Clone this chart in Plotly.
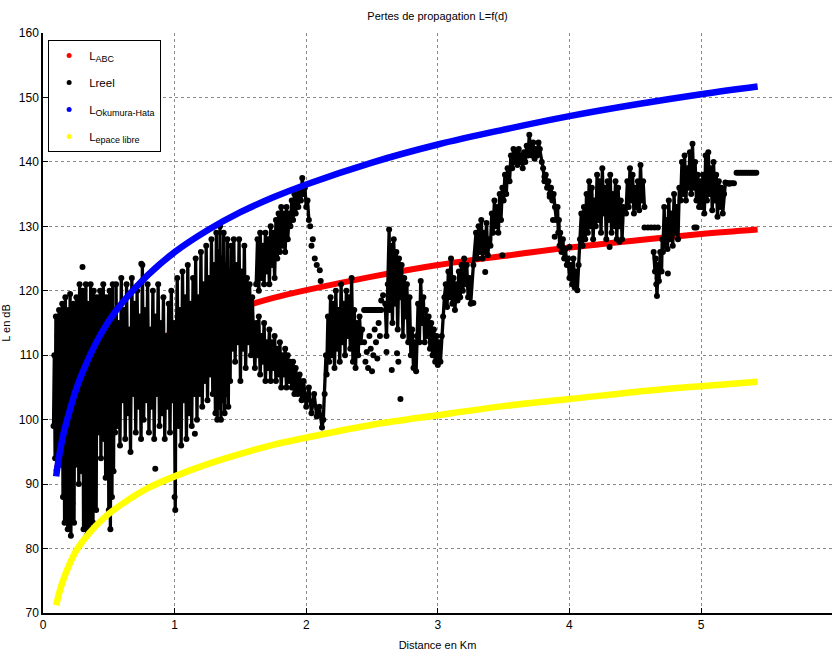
import plotly.graph_objects as go

# ---- propagation models, sampled along the route (km -> dB) ----
dist_model = [0.1, 0.12, 0.15, 0.2, 0.25, 0.3, 0.4, 0.5, 0.6, 0.8, 1.0, 1.25,
              1.5, 1.75, 2.0, 2.5, 3.0, 3.5, 4.0, 4.5, 5.0, 5.43]
loss_abc = [91.9, 93.6, 95.7, 98.4, 100.5, 102.3, 105.0, 107.1, 108.8, 111.5,
            113.6, 115.7, 117.4, 118.9, 120.1, 122.2, 124.0, 125.4, 126.7,
            127.8, 128.8, 129.5]
loss_okumura = [91.2, 94.0, 97.3, 101.2, 104.6, 107.3, 111.8, 115.3, 118.1,
                122.5, 126.0, 129.4, 132.2, 134.5, 136.5, 139.9, 142.7, 145.0,
                147.1, 148.9, 150.5, 151.7]
loss_free = [71.2, 72.9, 74.9, 77.5, 79.6, 81.1, 83.5, 85.4, 86.9, 89.4, 91.2,
             93.1, 94.7, 96.1, 97.2, 99.2, 100.7, 102.1, 103.2, 104.3, 105.2,
             105.9]

# ---- measured losses (distance km, loss dB), grouped by stretch of route ----
reel_near = [
    (0.080, 99), (0.086, 110), (0.092, 94), (0.098, 116), (0.104, 101), (0.110, 113),
    (0.116, 95), (0.122, 117), (0.128, 97), (0.134, 111), (0.140, 93), (0.146, 118),
    (0.152, 88), (0.158, 115), (0.164, 84), (0.170, 119), (0.176, 90), (0.182, 113),
    (0.188, 83), (0.194, 117), (0.200, 86), (0.206, 119.5), (0.212, 82), (0.218, 114),
    (0.224, 87), (0.230, 118), (0.236, 84), (0.242, 116), (0.248, 93), (0.254, 119),
    (0.260, 97), (0.266, 115), (0.272, 90), (0.278, 121), (0.284, 99), (0.290, 117),
    (0.296, 92), (0.302, 120), (0.308, 83), (0.314, 116), (0.320, 88), (0.326, 121),
    (0.332, 82), (0.338, 118), (0.344, 85), (0.350, 114), (0.356, 83), (0.362, 121),
    (0.368, 90), (0.374, 117), (0.380, 84), (0.386, 120), (0.392, 94), (0.398, 115),
    (0.404, 86), (0.410, 119), (0.416, 98), (0.422, 116), (0.428, 101), (0.434, 120),
    (0.440, 94), (0.446, 113), (0.452, 102), (0.458, 121), (0.464, 97), (0.470, 117),
    (0.476, 91), (0.482, 119), (0.488, 100), (0.494, 114), (0.500, 86), (0.506, 120),
    (0.512, 83), (0.518, 116), (0.524, 88), (0.530, 121), (0.536, 92), (0.542, 117),
    (0.548, 98),
]
reel_mid = [
    (0.555, 121), (0.565, 99), (0.575, 115), (0.585, 96), (0.595, 122), (0.605, 103),
    (0.615, 117), (0.625, 97), (0.635, 121), (0.645, 101), (0.655, 114), (0.665, 95),
    (0.675, 122), (0.685, 104), (0.695, 118), (0.705, 98), (0.715, 120), (0.725, 102),
    (0.735, 116), (0.745, 97), (0.755, 124), (0.765, 100), (0.775, 117), (0.785, 103),
    (0.795, 121), (0.805, 98), (0.815, 114), (0.825, 102), (0.835, 120), (0.845, 97),
    (0.855, 116), (0.865, 104), (0.875, 121), (0.885, 99), (0.895, 115), (0.905, 101),
    (0.915, 119), (0.925, 97), (0.935, 113), (0.945, 102), (0.955, 118), (0.965, 98),
    (0.975, 120), (0.985, 103), (0.995, 115), (1.000, 88), (1.005, 86), (1.010, 108),
    (1.020, 122), (1.030, 99), (1.040, 117), (1.050, 96), (1.060, 123), (1.070, 103),
    (1.080, 119), (1.090, 97), (1.100, 124), (1.110, 101), (1.120, 118), (1.130, 99),
    (1.140, 122), (1.150, 104), (1.160, 125), (1.170, 100), (1.180, 119), (1.190, 104),
    (1.200, 126), (1.210, 102), (1.220, 121), (1.230, 106), (1.240, 127), (1.250, 103),
    (1.260, 122), (1.270, 107), (1.280, 128), (1.290, 104), (1.300, 124),
    (1.310, 101), (1.317, 129), (1.324, 100), (1.331, 126), (1.338, 102), (1.345, 130),
    (1.352, 100), (1.359, 125), (1.366, 103), (1.373, 129), (1.380, 101), (1.387, 124),
    (1.394, 104), (1.401, 128), (1.408, 102), (1.415, 123), (1.422, 106), (1.429, 127),
    (1.440, 111), (1.450, 128), (1.460, 109), (1.470, 124), (1.480, 112), (1.490, 128),
    (1.500, 106), (1.510, 123), (1.520, 111), (1.530, 127), (1.540, 108), (1.550, 122),
    (1.560, 112), (1.570, 121), (1.580, 110), (1.590, 119), (1.600, 113),
    (1.610, 108), (1.620, 115), (1.630, 110), (1.640, 116), (1.650, 107), (1.660, 113),
    (1.670, 109), (1.680, 115), (1.690, 106), (1.700, 112), (1.710, 108), (1.720, 114),
    (1.730, 106), (1.740, 112), (1.750, 108), (1.760, 113), (1.770, 106), (1.780, 111),
    (1.790, 107), (1.800, 112), (1.810, 105), (1.820, 110), (1.830, 107), (1.840, 111),
    (1.850, 105), (1.860, 110), (1.870, 106), (1.880, 109), (1.890, 105), (1.900, 109),
    (1.910, 104), (1.920, 108), (1.935, 104), (1.950, 107), (1.965, 103), (1.980, 106),
    (2.000, 102), (2.020, 105), (2.040, 101), (2.060, 104), (2.080, 100.5), (2.100, 102),
    (2.120, 98.8), (2.130, 100),
    (2.140, 104), (2.150, 110), (2.155, 107), (2.165, 116), (2.175, 109), (2.185, 119),
    (2.195, 110), (2.205, 118), (2.215, 108), (2.225, 120), (2.235, 111), (2.245, 117),
    (2.255, 109), (2.265, 121), (2.275, 112), (2.285, 118), (2.295, 110), (2.305, 120),
    (2.315, 113), (2.325, 119), (2.335, 111), (2.345, 122), (2.355, 109), (2.365, 117),
    (2.375, 108), (2.385, 115), (2.395, 110), (2.405, 116), (2.415, 112), (2.425, 114),
]
reel_ridge = [
    (1.620, 121), (1.630, 128), (1.640, 120), (1.650, 129), (1.660, 122), (1.670, 127),
    (1.680, 121), (1.690, 129), (1.700, 123), (1.710, 128), (1.720, 121), (1.730, 130),
    (1.740, 124), (1.750, 129), (1.760, 122), (1.770, 131), (1.780, 125), (1.790, 132),
    (1.800, 126), (1.810, 133), (1.820, 127), (1.830, 132), (1.840, 126), (1.850, 133),
    (1.860, 128), (1.870, 132), (1.880, 130), (1.890, 134), (1.900, 131), (1.910, 135),
    (1.920, 132), (1.930, 135), (1.940, 133), (1.950, 136), (1.960, 134), (1.970, 137.5),
    (1.980, 135), (1.990, 136), (2.000, 133), (2.010, 134), (2.020, 131),
]
reel_far = [
    (2.600, 118), (2.610, 113), (2.620, 121), (2.630, 129.5), (2.635, 117), (2.645, 127),
    (2.655, 115), (2.665, 128), (2.675, 118), (2.685, 126), (2.695, 114), (2.705, 125),
    (2.715, 119), (2.725, 124), (2.735, 113), (2.745, 122), (2.755, 116), (2.765, 121),
    (2.775, 112), (2.785, 119), (2.795, 110), (2.805, 114), (2.815, 108), (2.825, 112),
    (2.835, 107.5), (2.840, 113), (2.850, 118), (2.860, 112), (2.870, 121.5), (2.880, 115),
    (2.890, 119), (2.900, 112), (2.910, 117), (2.920, 113), (2.930, 116), (2.940, 111),
    (2.950, 115), (2.960, 110), (2.970, 114), (2.980, 109), (2.990, 113), (3.000, 108.5),
    (3.010, 112), (3.020, 109), (3.030, 113), (3.040, 116), (3.050, 119), (3.060, 121),
    (3.070, 117.5), (3.080, 123), (3.090, 119), (3.100, 125), (3.110, 118), (3.120, 122),
    (3.130, 117), (3.140, 121), (3.150, 118.5), (3.160, 123), (3.170, 119), (3.180, 124),
    (3.190, 120), (3.200, 125), (3.210, 121), (3.220, 124), (3.230, 119), (3.240, 122),
    (3.250, 118), (3.270, 124), (3.290, 129), (3.300, 125), (3.310, 130), (3.320, 126),
    (3.330, 131), (3.340, 125), (3.350, 129), (3.360, 126), (3.370, 130.5), (3.380, 125.5),
    (3.390, 128), (3.400, 127), (3.410, 132), (3.420, 129), (3.430, 134), (3.440, 130),
    (3.450, 133), (3.460, 129), (3.470, 135), (3.480, 131), (3.490, 136), (3.500, 134),
    (3.510, 138), (3.520, 135), (3.530, 139), (3.545, 137), (3.555, 141), (3.565, 139),
    (3.575, 142), (3.585, 140), (3.595, 141.5), (3.605, 139.5), (3.615, 142), (3.625, 140),
    (3.635, 141), (3.645, 139), (3.655, 141.5), (3.665, 140), (3.675, 142.5), (3.685, 141),
    (3.695, 144.2), (3.705, 142), (3.715, 141), (3.725, 143), (3.735, 140.5), (3.745, 142),
    (3.755, 141), (3.765, 143), (3.775, 142), (3.790, 140), (3.800, 139), (3.810, 137),
    (3.820, 138), (3.830, 136), (3.840, 137), (3.850, 135), (3.860, 136), (3.870, 134),
    (3.880, 135), (3.890, 133), (3.900, 131), (3.910, 133), (3.915, 129), (3.920, 131),
    (3.925, 127), (3.930, 129), (3.940, 126), (3.950, 128), (3.960, 125), (3.970, 126.5),
    (3.980, 124), (3.990, 125), (4.000, 122), (4.010, 124), (4.020, 121), (4.030, 125),
    (4.040, 120.5), (4.050, 123), (4.060, 120.1), (4.070, 124), (4.080, 128), (4.090, 132),
    (4.100, 127), (4.110, 133), (4.120, 128), (4.130, 135), (4.140, 129), (4.150, 137),
    (4.160, 130), (4.170, 136), (4.180, 128), (4.190, 134), (4.200, 130), (4.210, 138),
    (4.220, 131), (4.230, 137), (4.240, 129), (4.250, 139), (4.260, 132), (4.270, 136),
    (4.280, 128), (4.290, 137), (4.300, 131), (4.310, 138), (4.320, 129), (4.330, 135),
    (4.340, 130), (4.350, 137), (4.360, 128), (4.370, 136), (4.380, 130), (4.390, 134),
    (4.400, 128), (4.410, 133), (4.430, 132), (4.440, 137), (4.450, 133), (4.460, 139),
    (4.470, 134), (4.480, 138), (4.490, 132), (4.500, 136), (4.510, 133), (4.520, 137),
    (4.530, 132.5), (4.540, 139.5), (4.550, 134), (4.560, 137), (4.570, 133),
]
reel_end = [
    (4.640, 126), (4.650, 123), (4.655, 125), (4.660, 121), (4.665, 119.2), (4.670, 122),
    (4.675, 124), (4.680, 121.5), (4.690, 126), (4.700, 123), (4.705, 128), (4.710, 126),
    (4.720, 133), (4.725, 127), (4.735, 131), (4.745, 126.5), (4.755, 134), (4.765, 128),
    (4.775, 132), (4.785, 127), (4.795, 135), (4.805, 129), (4.815, 133), (4.825, 128),
    (4.835, 136), (4.845, 134), (4.855, 140), (4.865, 135), (4.875, 141), (4.885, 134),
    (4.895, 139), (4.905, 136), (4.915, 141.5), (4.925, 135), (4.935, 142.8), (4.945, 136),
    (4.955, 140), (4.965, 134), (4.975, 138), (4.985, 133), (4.995, 137), (5.005, 133),
    (5.015, 138), (5.025, 132), (5.035, 141), (5.045, 134), (5.055, 141.5), (5.065, 135),
    (5.075, 139), (5.085, 132.5), (5.095, 140), (5.105, 134), (5.115, 138), (5.125, 131.5),
    (5.135, 137), (5.145, 133), (5.155, 136), (5.165, 132), (5.175, 135), (5.185, 136.8),
    (5.195, 136.7), (5.205, 136.7), (5.215, 136.6),
]
# isolated readings and stretches where the level stayed constant
reel_dots = [
    (0.300, 123.7), (0.747, 124.2), (0.853, 92.4), (1.154, 97.8), (2.030, 130.0),
    (2.040, 127.0), (2.050, 128.0), (2.065, 125.0), (2.080, 124.0), (2.103, 123.2),
    (2.110, 121.5), (2.440, 112), (2.450, 109), (2.460, 110.5), (2.470, 108),
    (2.480, 113), (2.490, 111), (2.500, 107.5), (2.510, 110), (2.520, 114), (2.530, 112),
    (2.540, 109.5), (2.550, 115), (2.560, 113), (2.570, 118.5), (2.584, 119.3),
    (2.610, 110.5), (2.650, 107.7), (2.690, 110.3), (2.700, 109), (2.716, 103.2),
    (3.270, 118.1), (3.360, 122.9), (3.490, 125.5), (3.810, 137.7), (3.850, 134.6),
    (3.875, 131.0), (3.888, 128.4), (4.000, 126.8), (4.305, 126.8), (4.380, 127.6),
    (4.748, 122.7), (4.950, 129.8), (4.965, 129.8),
    (4.570, 129.8), (4.596, 129.8), (4.621, 129.8), (4.647, 129.8), (4.672, 129.8),
]
reel_flat = [
    (2.440, 117), (2.450, 117), (2.460, 117), (2.470, 117), (2.480, 117), (2.490, 117),
    (2.500, 117), (2.510, 117), (2.520, 117), (2.530, 117), (2.540, 117), (2.550, 117),
    (2.560, 117), (2.570, 117),
    (5.220, 136.7), (5.235, 136.7), (5.250, 136.7),
    (5.270, 138.3), (5.285, 138.3), (5.300, 138.3), (5.315, 138.3), (5.330, 138.3),
    (5.345, 138.3), (5.360, 138.3), (5.375, 138.3), (5.390, 138.3), (5.405, 138.3),
    (5.420, 138.3),
]

FONT = "Liberation Sans, Arial, Helvetica, sans-serif"


def joined(*runs):
    """Concatenate route stretches, breaking the line between them."""
    xs, ys = [], []
    for run in runs:
        if xs:
            xs.append(None)
            ys.append(None)
        xs.extend(p[0] for p in run)
        ys.extend(p[1] for p in run)
    return xs, ys


def sub(main, low):
    return f"{main}<sub><span style='font-size:9px'>{low}</span></sub>"


fig = go.Figure()

# L_ABC (drawn first, underneath the measurements)
fig.add_trace(go.Scatter(x=dist_model, y=loss_abc, mode="lines",
                         line=dict(color="#ff0000", width=6, shape="spline"),
                         showlegend=False, legendgroup="abc"))

# measured losses
rx, ry = joined(reel_near, reel_mid, reel_ridge, reel_far, reel_end)
fig.add_trace(go.Scatter(x=rx, y=ry, mode="lines+markers",
                         line=dict(color="black", width=3.3),
                         marker=dict(color="black", size=6),
                         showlegend=False, legendgroup="reel"))
fig.add_trace(go.Scatter(x=[p[0] for p in reel_dots + reel_flat],
                         y=[p[1] for p in reel_dots + reel_flat],
                         mode="markers", marker=dict(color="black", size=6),
                         showlegend=False, legendgroup="reel"))

# Okumura-Hata and free-space models
fig.add_trace(go.Scatter(x=dist_model, y=loss_okumura, mode="lines",
                         line=dict(color="#0000ff", width=6.5, shape="spline"),
                         showlegend=False, legendgroup="oh"))
fig.add_trace(go.Scatter(x=dist_model, y=loss_free, mode="lines",
                         line=dict(color="#ffff00", width=6.5, shape="spline"),
                         showlegend=False, legendgroup="fs"))

# legend entries shown as dots
for name, color, grp in [(sub("L", "ABC"), "#ff0000", "abc"),
                         ("Lreel", "black", "reel"),
                         (sub("L", "Okumura-Hata"), "#0000ff", "oh"),
                         (sub("L", "epace libre"), "#ffff00", "fs")]:
    fig.add_trace(go.Scatter(x=[None], y=[None], mode="markers", name=name,
                             marker=dict(color=color, size=5),
                             legendgroup=grp))

axis_common = dict(
    showgrid=True, gridcolor="#8a8a8a", griddash="dot", gridwidth=1,
    showline=True, linecolor="black", linewidth=1.5,
    ticks="inside", ticklen=5, tickcolor="black", tickwidth=1,
    tickfont=dict(family=FONT, size=12, color="black"),
    zeroline=False, mirror=False,
)

fig.update_layout(
    width=832, height=653,
    margin=dict(l=43, r=0, t=33, b=40),
    paper_bgcolor="white", plot_bgcolor="white",
    font=dict(family=FONT, color="black"),
    title=dict(text="Pertes de propagation L=f(d)", x=0.5, xref="paper",
               y=1 - 16 / 653, yref="container", yanchor="middle",
               xanchor="center", font=dict(size=11, family=FONT)),
    xaxis=dict(range=[0, 5.995], tickvals=[0, 1, 2, 3, 4, 5],
               title=dict(text="Distance en Km", font=dict(size=11), standoff=10),
               **axis_common),
    yaxis=dict(range=[70, 160], dtick=10,
               title=dict(text="L en dB", font=dict(size=11), standoff=6),
               **axis_common),
    legend=dict(x=0.0065, y=0.988, xanchor="left", yanchor="top",
                bgcolor="white", bordercolor="black", borderwidth=1,
                font=dict(family=FONT, size=11.5, color="black"),
                traceorder="grouped", tracegroupgap=8),
    showlegend=True,
)

fig.write_html("out.html")
